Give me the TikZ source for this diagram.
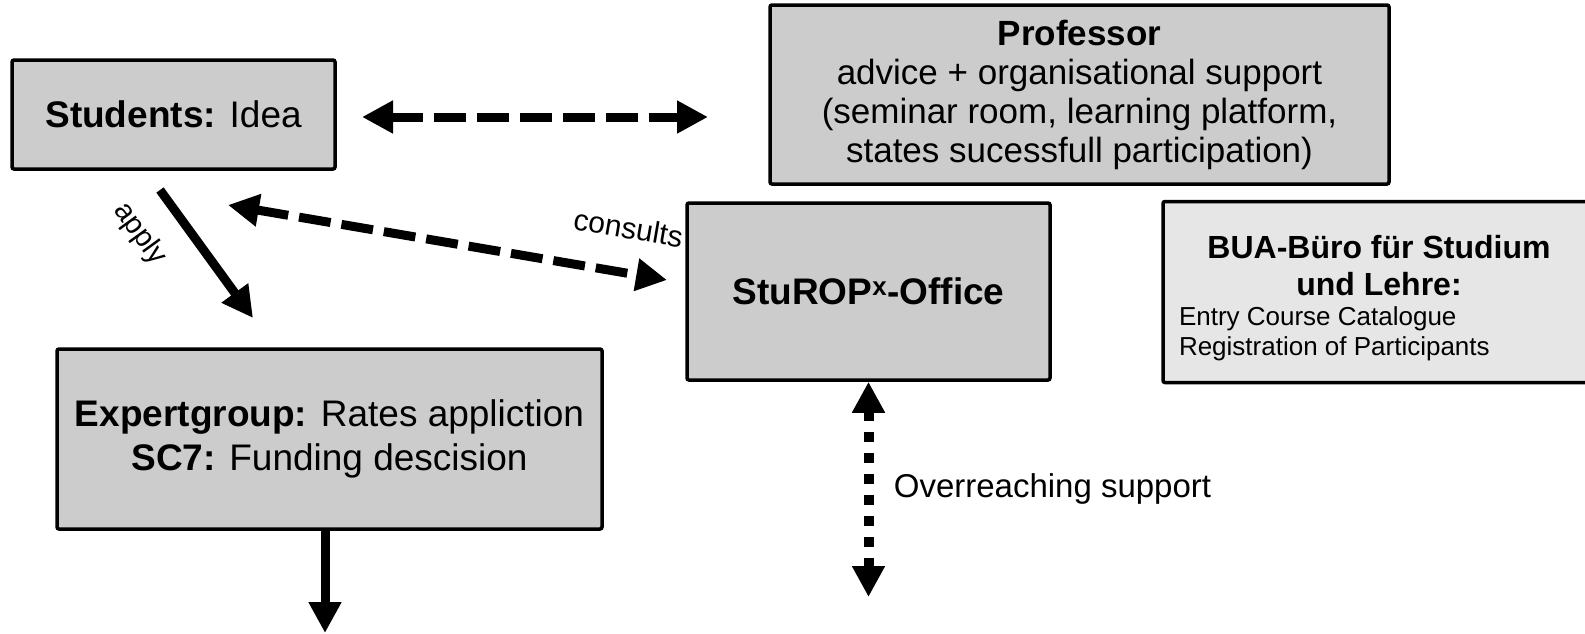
\documentclass[tikz,border=0pt]{standalone}
\usepackage{fontspec}
\setmainfont{Liberation Sans}
\usetikzlibrary{arrows.meta,calc}
\definecolor{boxgray}{HTML}{CCCCCC}
\definecolor{lightbox}{HTML}{E6E6E6}
\newcommand\fsz[2]{\fontsize{#1pt}{#2pt}\selectfont}
\setlength{\parindent}{0pt}
\tikzset{
  >={Triangle[length=31pt,width=31pt]},
  box/.style={draw, line width=3.5pt, fill=boxgray, rounded corners=2pt, inner sep=0pt, align=center},
  dline/.style={line width=9pt, dash pattern=on 32pt off 11pt},
  sline/.style={line width=9pt},
  dotline/.style={line width=10pt, dash pattern=on 10pt off 11pt},
}
\begin{document}
\begin{tikzpicture}[x=1pt,y=-1pt]
\useasboundingbox (0,0) rectangle (1585,633);

\node[box, minimum width=323pt, minimum height=109pt, font=\fsz{37}{43}] (stud) at (173.5,114.5) {\textbf{Students:} Idea};

\node[box, minimum width=619pt, minimum height=179pt, font=\fsz{35}{39}] (prof) at (1079.5,94.5)
  {\textbf{Professor}\\ advice + organisational support\\ (seminar room, learning platform,\\ states sucessfull participation)};

\node[box, minimum width=363pt, minimum height=177pt, font=\fsz{37}{43}] (stu) at (868.5,291.5)
  {\textbf{StuROP\textsuperscript{x}-Office}};

\node[box, fill=lightbox, minimum width=432pt, minimum height=181pt, align=none] (bua) at (1379,292)
  {\begin{minipage}{400pt}
   \vspace*{12pt}%
   {\fsz{32}{37}\bfseries\centering BUA-Büro für Studium\par und Lehre:\par}
   {\fsz{26}{30}\raggedright Entry Course Catalogue\par Registration of Participants\par}
   \end{minipage}};

\node[box, minimum width=545pt, minimum height=180pt, font=\fsz{37}{44}] (exp) at (329.5,439)
  {\textbf{Expertgroup:} Rates appliction\\ \textbf{SC7:} Funding descision};

% connectors
\coordinate (sp1) at (362,117);
\coordinate (sp2) at (708,117);
\draw[dline,<->] (sp1) -- (sp2);

\coordinate (ap1) at (160,190);
\coordinate (ap2) at (253,318);
\draw[sline,->] (ap1) -- node[sloped, pos=0.15, below=21pt, font=\fsz{29}{33}] (lapply) {apply} (ap2);

\coordinate (cs1) at (228,205);
\coordinate (cs2) at (667,280);
\draw[dline,<->] (cs1) -- node[sloped, pos=0.895, above=26pt, font=\fsz{30}{34}] (lcons) {consults} (cs2);

\coordinate (e1) at (325,633);
\draw[sline,->] (exp.south -| e1) -- (e1);

\coordinate (d1) at (868.5,597);
\draw[dotline,<->] (stu) -- node[midway, right=17pt, font=\fsz{33}{38}] (lover) {Overreaching support} (d1);
\end{tikzpicture}
\end{document}
